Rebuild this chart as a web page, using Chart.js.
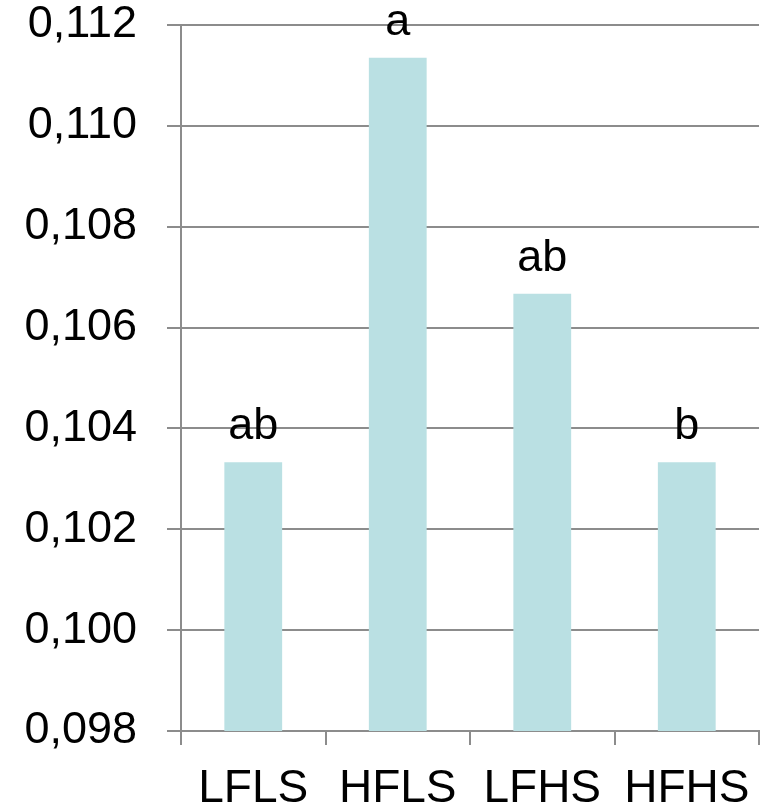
<!DOCTYPE html>
<html>
<head>
<meta charset="utf-8">
<script src="https://cdn.jsdelivr.net/npm/chart.js@4/dist/chart.umd.min.js"></script>
<style>
  html, body { margin: 0; padding: 0; background: #fff; }
  canvas { display: block; }
</style>
</head>
<body>
<canvas id="chart" width="767" height="807"></canvas>
<script>
const categories = ["LFLS", "HFLS", "LFHS", "HFHS"];
const values = [0.10333, 0.11135, 0.10667, 0.10333];
const letters = ["ab", "a", "ab", "b"];
const yMin = 0.098;
const yMax = 0.112;
const yStep = 0.002;

const gridColor = "#8c8c8c";
const fontFamily = "'Liberation Sans', Arial, sans-serif";

// letters above each bar
const letterPlugin = {
  id: "letters",
  afterDatasetsDraw(chart) {
    const ctx = chart.ctx;
    const meta = chart.getDatasetMeta(0);
    ctx.save();
    ctx.font = "45px " + fontFamily;
    ctx.fillStyle = "#000";
    ctx.textAlign = "center";
    ctx.textBaseline = "alphabetic";
    meta.data.forEach((bar, i) => {
      ctx.fillText(letters[i], bar.x, bar.y - 23);
    });
    ctx.restore();
  }
};

new Chart(document.getElementById("chart").getContext("2d"), {
  type: "bar",
  data: {
    labels: categories,
    datasets: [
      {
        data: values,
        backgroundColor: "rgb(186, 224, 227)",
        borderWidth: 0,
        barPercentage: 0.4,
        categoryPercentage: 1.0,
      },
    ],
  },
  options: {
    responsive: false,
    animation: false,
    layout: { padding: { top: 25, right: 5, left: 0, bottom: 0 } },
    plugins: {
      legend: { display: false },
      tooltip: { enabled: false },
    },
    scales: {
      x: {
        afterFit: (scale) => { scale.height = 76; },
        grid: {
          offset: true,
          drawOnChartArea: false,
          drawTicks: true,
          tickLength: 14,
          color: gridColor,
          lineWidth: 2,
        },
        border: { display: true, color: gridColor, width: 2 },
        ticks: {
          color: "#000",
          padding: 17,
          font: { family: fontFamily, size: 46 },
          maxRotation: 0,
          autoSkip: false,
        },
      },
      y: {
        min: yMin,
        max: yMax,
        afterFit: (scale) => {
          scale.width = 181;
          scale.paddingTop = 0;
          scale.paddingBottom = 0;
        },
        grid: {
          drawTicks: true,
          tickLength: 14,
          color: gridColor,
          lineWidth: 2,
        },
        border: { display: true, color: gridColor, width: 2 },
        ticks: {
          stepSize: yStep,
          color: "#000",
          padding: 30,
          font: { family: fontFamily, size: 45 },
          callback: (v) => v.toFixed(3).replace(".", ","),
        },
      },
    },
  },
  plugins: [letterPlugin],
});
</script>
</body>
</html>
